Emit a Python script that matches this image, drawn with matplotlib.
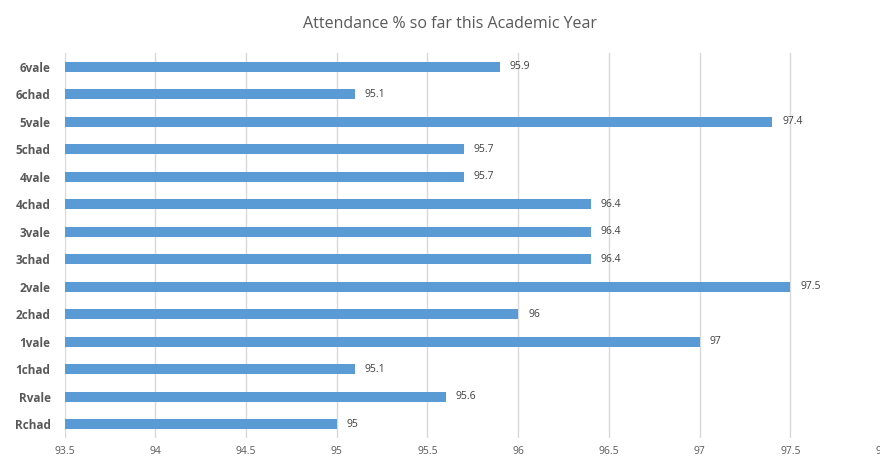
import numpy as np
import matplotlib
matplotlib.use("Agg")
import matplotlib.pyplot as plt

# data, top to bottom as in the chart
classes = ["6vale", "6chad", "5vale", "5chad", "4vale", "4chad", "3vale",
           "3chad", "2vale", "2chad", "1vale", "1chad", "Rvale", "Rchad"]
attendance = [95.9, 95.1, 97.4, 95.7, 95.7, 96.4, 96.4,
              96.4, 97.5, 96, 97, 95.1, 95.6, 95]
x_ticks = [93.5, 94, 94.5, 95, 95.5, 96, 96.5, 97, 97.5, 98]

plt.rcParams['font.family'] = ['Open Sans', 'DejaVu Sans']

fig = plt.figure(figsize=(8.8, 4.59), dpi=100)
ax = fig.add_axes([64.5 / 880, 1 - 438 / 459, (881 - 64.5) / 880, (438 - 53) / 459])

xmin, xmax = x_ticks[0], x_ticks[-1]
y = np.arange(len(classes))
vals = np.array(attendance)
ax.barh(y, vals - xmin, left=xmin, height=0.38, color="#5b9bd5", zorder=3)

for yi, v in zip(y, vals):
    ax.text(v + 0.055, yi, f"{v:g}", va="center", ha="left",
            fontsize=7.5, color="#404040")

ax.set_xlim(xmin, xmax)
ax.set_ylim(len(classes) - 0.5, -0.5)
ax.set_yticks(y)
ax.set_yticklabels(classes, fontsize=8.5, fontweight="bold", color="#595959")
ax.set_xticks(x_ticks)
ax.set_xticklabels([f"{t:g}" for t in x_ticks], fontsize=7.5, color="#595959")
ax.tick_params(axis="both", length=0)
ax.tick_params(axis="x", pad=6)
ax.tick_params(axis="y", pad=10)
ax.grid(axis="x", color="#d9d9d9", linewidth=1, zorder=0)
for s in ax.spines.values():
    s.set_visible(False)

fig.text(450 / 880, 1 - 24 / 459, "Attendance % so far this Academic Year",
         ha="center", va="center", fontsize=11.5, color="#595959")

fig.savefig("out.png", dpi=100)
